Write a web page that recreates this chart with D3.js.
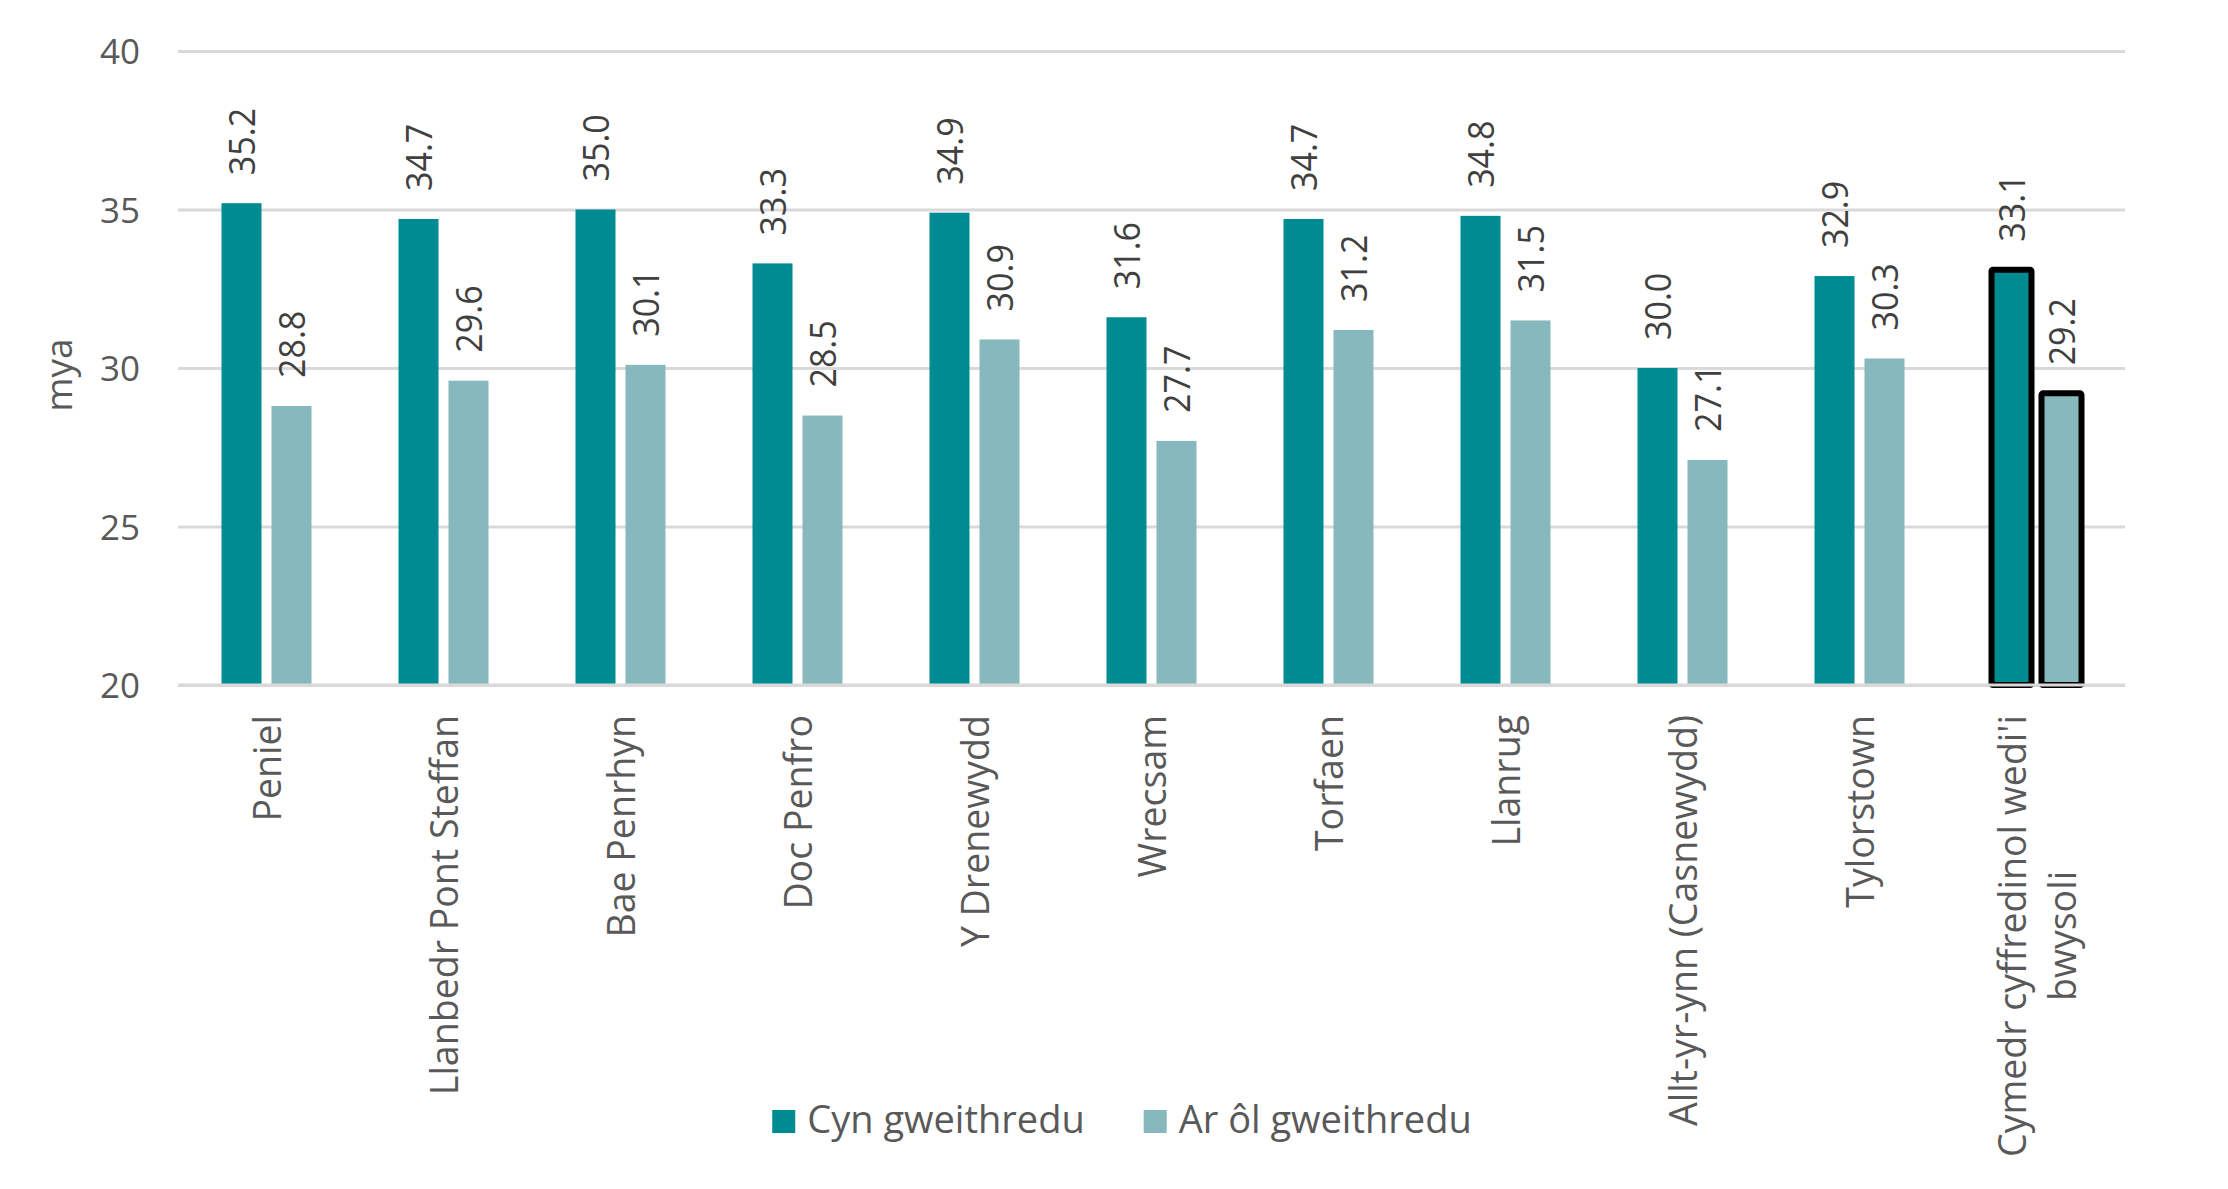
<!DOCTYPE html>
<html>
<head>
<meta charset="utf-8">
<script src="https://cdn.jsdelivr.net/npm/d3@7"></script>
<style>
  html, body { margin: 0; padding: 0; background: #ffffff; }
  svg { display: block; }
  text { font-family: "Open Sans", "Noto Sans", sans-serif; }
</style>
</head>
<body>
<svg id="chart" width="2228" height="1189"></svg>
<script>
// ---- data ----
const categories = [
  "Peniel", "Llanbedr Pont Steffan", "Bae Penrhyn", "Doc Penfro", "Y Drenewydd",
  "Wrecsam", "Torfaen", "Llanrug", "Allt-yr-ynn (Casnewydd)", "Tylorstown",
  "Cymedr cyffredinol wedi'i\nbwysoli"
];
const seriesNames = ["Cyn gweithredu", "Ar ôl gweithredu"];
const cynValues = [35.2, 34.7, 35.0, 33.3, 34.9, 31.6, 34.7, 34.8, 30.0, 32.9, 33.1];
const arolValues = [28.8, 29.6, 30.1, 28.5, 30.9, 27.7, 31.2, 31.5, 27.1, 30.3, 29.2];
const yTicks = [20, 25, 30, 35, 40];
const yTitle = "mya";
const highlightedCategory = "Cymedr cyffredinol wedi'i\nbwysoli";

// ---- layout ----
const colors = ["#008A91", "#86B8BE"];
const svg = d3.select("#chart");
const plot = { left: 178, right: 2125, top: 51, bottom: 685 };

const x = d3.scaleBand().domain(categories).range([plot.left, plot.right]).padding(0);
const barW = 40, barGap = 10;
const y = d3.scaleLinear().domain([20, 40]).range([plot.bottom, plot.top]);

// gridlines
const yAxis = d3.axisLeft(y).tickValues(yTicks).tickSize(-(plot.right - plot.left)).tickFormat(d3.format("d"));
const gAxis = svg.append("g").attr("transform", `translate(${plot.left},0)`).call(yAxis);
gAxis.select(".domain").remove();
gAxis.selectAll(".tick line").attr("stroke", "#D9D9D9").attr("stroke-width", 3);
gAxis.selectAll(".tick text")
  .attr("x", -38).attr("dy", "0.36em")
  .attr("fill", "#595959")
  .style("font-size", "35px")
  .style("font-family", "'Open Sans', sans-serif");

// y title
svg.append("text")
  .attr("transform", `translate(72,375) rotate(-90)`)
  .attr("text-anchor", "middle")
  .attr("fill", "#595959")
  .style("font-size", "37px")
  .text(yTitle);

// bars
const rows = categories.map((c, i) => ({ c, vals: [cynValues[i], arolValues[i]] }));
const barX = (c, s) => x(c) + x.bandwidth() / 2 + (s === 0 ? -(barGap / 2 + barW) : barGap / 2);

rows.forEach(r => {
  r.vals.forEach((v, s) => {
    const hl = r.c === highlightedCategory;
    svg.append("rect")
      .attr("x", barX(r.c, s))
      .attr("y", y(v))
      .attr("width", barW)
      .attr("height", y(20) - y(v))
      .attr("fill", colors[s])
      .attr("stroke", hl ? "#000000" : "none")
      .attr("stroke-width", hl ? 6 : 0)
      .attr("rx", hl ? 1.5 : 0);
  });
});

// baseline drawn over bars
svg.append("line")
  .attr("x1", plot.left).attr("x2", plot.right)
  .attr("y1", y(20)).attr("y2", y(20))
  .attr("stroke", "#D9D9D9").attr("stroke-width", 3);

// data labels
rows.forEach(r => {
  r.vals.forEach((v, s) => {
    const cx = barX(r.c, s) + barW / 2;
    svg.append("text")
      .attr("transform", `translate(${cx},${y(v) - 28}) rotate(-90) scale(0.92,1)`)
      .attr("text-anchor", "start")
      .attr("dy", "0.36em")
      .attr("fill", "#404040")
      .style("font-size", "37px")
      .text(d3.format(".1f")(v));
  });
});

// category labels
const catFont = "37.5px";
categories.forEach(c => {
  const lines = c.split("\n");
  const cx = x(c) + x.bandwidth() / 2;
  const lh = 50;
  const g = svg.append("g").attr("transform", `translate(${cx},715) rotate(-90)`);
  const t = g.append("text")
    .attr("fill", "#595959")
    .style("font-size", catFont);
  if (lines.length === 1) {
    t.attr("text-anchor", "end").attr("dy", "0.39em").text(c);
  } else {
    const tmp = svg.append("text").style("font-size", catFont).text(lines[0]);
    const w0 = tmp.node().getComputedTextLength();
    tmp.remove();
    const off0 = -(lines.length - 1) * lh / 2;
    lines.forEach((ln, i) => {
      t.append("tspan")
        .attr("x", -w0 / 2)
        .attr("y", off0 + i * lh)
        .attr("dy", "0.39em")
        .attr("text-anchor", "middle")
        .text(ln);
    });
  }
});

// legend
const legend = svg.append("g");
let lx = 0;
seriesNames.forEach((n, i) => {
  const g = legend.append("g").attr("transform", `translate(${lx},0)`);
  g.append("rect").attr("x", 0).attr("y", -23).attr("width", 23).attr("height", 23).attr("fill", colors[i]);
  const t = g.append("text").attr("x", 35).attr("y", 0)
    .attr("fill", "#595959").style("font-size", "38px").text(n);
  const w = t.node().getComputedTextLength();
  lx += 35 + w + 59;
});
const legendW = lx - 59;
legend.attr("transform", `translate(${1122 - legendW / 2},1133)`);
</script>
</body>
</html>
